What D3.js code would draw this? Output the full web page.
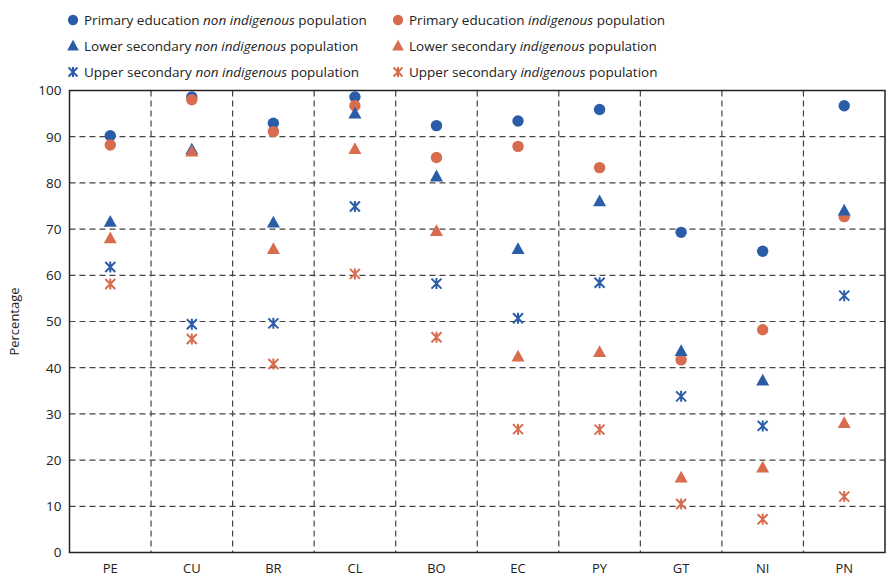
<!DOCTYPE html>
<html>
<head>
<meta charset="utf-8">
<script src="https://cdn.jsdelivr.net/npm/d3@7"></script>
<style>
  body { margin: 0; background: #fff; }
  text { font-family: "Open Sans", "Noto Sans", sans-serif; fill: #222; }
</style>
</head>
<body>
<svg id="chart" width="889" height="576"></svg>
<script>
const categories = ["PE","CU","BR","CL","BO","EC","PY","GT","NI","PN"];
const primaryNonIndig = [90.2, 98.6, 92.9, 98.6, 92.4, 93.4, 95.9, 69.3, 65.2, 96.7];
const primaryIndig    = [88.2, 98.0, 91.1, 96.7, 85.5, 87.9, 83.3, 41.7, 48.2, 72.7];
const lowerNonIndig   = [71.6, 87.2, 71.4, 95.0, 81.4, 65.7, 76.0, 43.6, 37.2, 74.0];
const lowerIndig      = [68.0, 86.8, 65.7, 87.3, 69.6, 42.4, 43.4, 16.2, 18.4, 28.0];
const upperNonIndig   = [61.8, 49.4, 49.6, 74.9, 58.2, 50.7, 58.4, 33.8, 27.4, 55.6];
const upperIndig      = [58.1, 46.2, 40.8, 60.3, 46.6, 26.7, 26.6, 10.5, 7.2, 12.1];
const yTicks = [0,10,20,30,40,50,60,70,80,90,100];

const BLUE = "#2a5ca8", ORANGE = "#d86c4f";
const series = [
  {name:["Primary education ","non indigenous"," population"], values:primaryNonIndig, color:BLUE, shape:"circle"},
  {name:["Primary education ","indigenous"," population"], values:primaryIndig, color:ORANGE, shape:"circle"},
  {name:["Lower secondary ","non indigenous"," population"], values:lowerNonIndig, color:BLUE, shape:"triangle"},
  {name:["Lower secondary ","indigenous"," population"], values:lowerIndig, color:ORANGE, shape:"triangle"},
  {name:["Upper secondary ","non indigenous"," population"], values:upperNonIndig, color:BLUE, shape:"star"},
  {name:["Upper secondary ","indigenous"," population"], values:upperIndig, color:ORANGE, shape:"star"}
];
const drawOrder = [0,1,2,3,4,5];

const svg = d3.select("#chart");
const margin = {left: 69.5, right: 4, top: 90.5, bottom: 23.5};
const W = 889, H = 576;
const x = d3.scaleBand().domain(categories).range([margin.left, W - margin.right]).padding(0);
const y = d3.scaleLinear().domain([0,100]).range([H - margin.bottom, margin.top]);

// grid
const grid = svg.append("g");
grid.selectAll("line.h").data(yTicks.filter(t => t > 0 && t < 100)).join("line")
  .attr("x1", margin.left).attr("x2", W - margin.right)
  .attr("y1", d => y(d)).attr("y2", d => y(d))
  .attr("stroke", "#444").attr("stroke-width", 1.2).attr("stroke-dasharray", "6,4");
grid.selectAll("line.v").data(categories.slice(1)).join("line")
  .attr("x1", d => x(d)).attr("x2", d => x(d))
  .attr("y1", margin.top).attr("y2", H - margin.bottom)
  .attr("stroke", "#444").attr("stroke-width", 1.2).attr("stroke-dasharray", "6,4");

// frame
svg.append("rect").attr("x", margin.left).attr("y", margin.top)
  .attr("width", W - margin.right - margin.left).attr("height", H - margin.bottom - margin.top)
  .attr("fill", "none").attr("stroke", "#222").attr("stroke-width", 1.5);

// y axis
const yAxis = d3.axisLeft(y).tickValues(yTicks).tickSize(0).tickPadding(8);
const ya = svg.append("g").attr("transform", `translate(${margin.left},0)`).call(yAxis);
ya.select(".domain").remove();
ya.selectAll("text").style("font-size", "13.5px").style("font-family", '"Open Sans", sans-serif').attr("fill", "#222");

// x axis
const xAxis = d3.axisBottom(x).tickSize(0).tickPadding(11);
const xa = svg.append("g").attr("transform", `translate(0,${H - margin.bottom})`).call(xAxis);
xa.select(".domain").remove();
xa.selectAll("text").style("font-size", "13px").style("font-family", '"Open Sans", sans-serif').attr("fill", "#222");

// y label
svg.append("text").attr("transform", `translate(19,${(margin.top + H - margin.bottom)/2}) rotate(-90)`)
  .attr("text-anchor", "middle").style("font-size", "13px").text("Percentage");

function drawMarker(g, shape, color, cx, cy, s) {
  s = s || 1;
  if (shape === "circle") {
    g.append("circle").attr("cx", cx).attr("cy", cy).attr("r", 5.7*s).attr("fill", color);
  } else if (shape === "triangle") {
    const h = 11*s, w = 13*s;
    g.append("path").attr("d", `M${cx},${cy - h*0.62} L${cx + w/2},${cy + h*0.45} L${cx - w/2},${cy + h*0.45} Z`).attr("fill", color);
  } else {
    const r = 5*s;
    const p = `M${cx-r},${cy-r}L${cx+r},${cy+r}M${cx-r},${cy+r}L${cx+r},${cy-r}M${cx},${cy-r*1.1}L${cx},${cy+r*1.1}`;
    g.append("path").attr("d", p).attr("stroke", color).attr("stroke-width", 2).attr("fill", "none");
  }
}

const marks = svg.append("g");
drawOrder.forEach(i => {
  const s = series[i];
  s.values.forEach((v, j) => {
    drawMarker(marks, s.shape, s.color, x(categories[j]) + x.bandwidth()/2, y(v));
  });
});

// legend
const leg = svg.append("g");
const legCols = [73, 398];
const legRows = [20, 46, 72];
series.forEach((s, i) => {
  const col = i % 2, row = Math.floor(i / 2);
  const mx = legCols[col], my = legRows[row];
  drawMarker(leg, s.shape, s.color, mx, my, 0.9);
  const t = leg.append("text").attr("x", mx + 11).attr("y", my + 5).style("font-size", "13.5px");
  t.append("tspan").text(s.name[0]);
  t.append("tspan").style("font-style", "italic").text(s.name[1]);
  t.append("tspan").text(s.name[2]);
});
</script>
</body>
</html>
